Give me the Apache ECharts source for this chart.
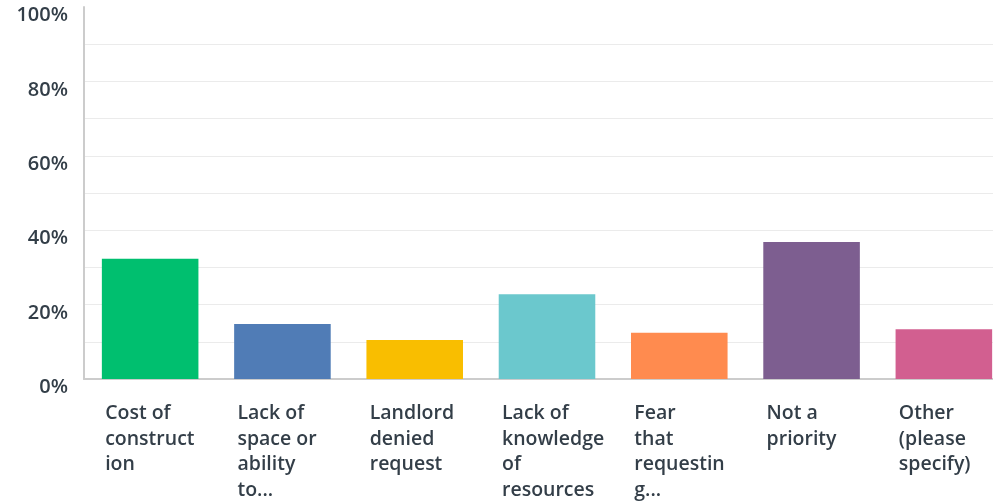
<!DOCTYPE html>
<html>
<head>
<meta charset="utf-8">
<script src="https://cdn.jsdelivr.net/npm/echarts@6/dist/echarts.min.js"></script>
<style>html,body{margin:0;padding:0;background:#fff}#c{width:993px;height:501px}</style>
</head>
<body>
<div id="c"></div>
<script>
var categories = ['Cost of construction', 'Lack of space or ability to...', 'Landlord denied request', 'Lack of knowledge of resources', 'Fear that requesting...', 'Not a priority', 'Other (please specify)'];
var tickLabels = ['Cost of\nconstruct\nion', 'Lack of\nspace or\nability\nto...', 'Landlord\ndenied\nrequest', 'Lack of\nknowledge\nof\nresources', 'Fear\nthat\nrequestin\ng...', 'Not a\npriority', 'Other\n(please\nspecify)'];
var values = [32.3, 14.8, 10.5, 22.8, 12.4, 36.8, 13.4];
var colors = ['#00BF6F', '#507CB6', '#F9BE00', '#6BC8CD', '#FF8B4F', '#7D5E90', '#D25F90'];

var chart = echarts.init(document.getElementById('c'), null, {renderer: 'canvas'});
chart.setOption({
  animation: false,
  grid: {left: 84, top: 7, right: -17, bottom: 122, containLabel: false, outerBoundsMode: 'none'},
  xAxis: {
    type: 'category',
    data: categories,
    axisLine: {show: true, lineStyle: {color: '#cccccc', width: 2}},
    axisTick: {show: false},
    axisLabel: {
      interval: 0,
      margin: 22,
      align: 'center',
      verticalAlign: 'top',
      hideOverlap: false,
      formatter: function (v, i) {
        return tickLabels[i].split('\n').map(function (s) { return '{a|' + s + '}'; }).join('\n');
      },
      rich: {
        a: {
          width: 90,
          align: 'left',
          fontFamily: 'Open Sans',
          fontWeight: 600,
          fontSize: 19.5,
          lineHeight: 25.5,
          color: '#333e48'
        }
      }
    }
  },
  yAxis: {
    type: 'value',
    min: 0,
    max: 100,
    interval: 20,
    axisLine: {show: true, lineStyle: {color: '#cccccc', width: 2}},
    axisTick: {show: false},
    splitLine: {show: true, showMaxLine: false, lineStyle: {color: '#ebebeb', width: 1}},
    minorTick: {show: false, splitNumber: 2},
    minorSplitLine: {show: true, lineStyle: {color: '#ebebeb', width: 1}},
    axisLabel: {
      formatter: '{value}%',
      margin: 16,
      verticalAlign: 'top',
      lineHeight: 20,
      padding: [-1.5, 0, 0, 0],
      fontFamily: 'Open Sans',
      fontWeight: 600,
      fontSize: 20,
      color: '#333e48'
    }
  },
  series: [{
    type: 'bar',
    barCategoryGap: '27%',
    data: values.map(function (v, i) { return {value: v, itemStyle: {color: colors[i]}}; })
  }]
});
</script>
</body>
</html>
